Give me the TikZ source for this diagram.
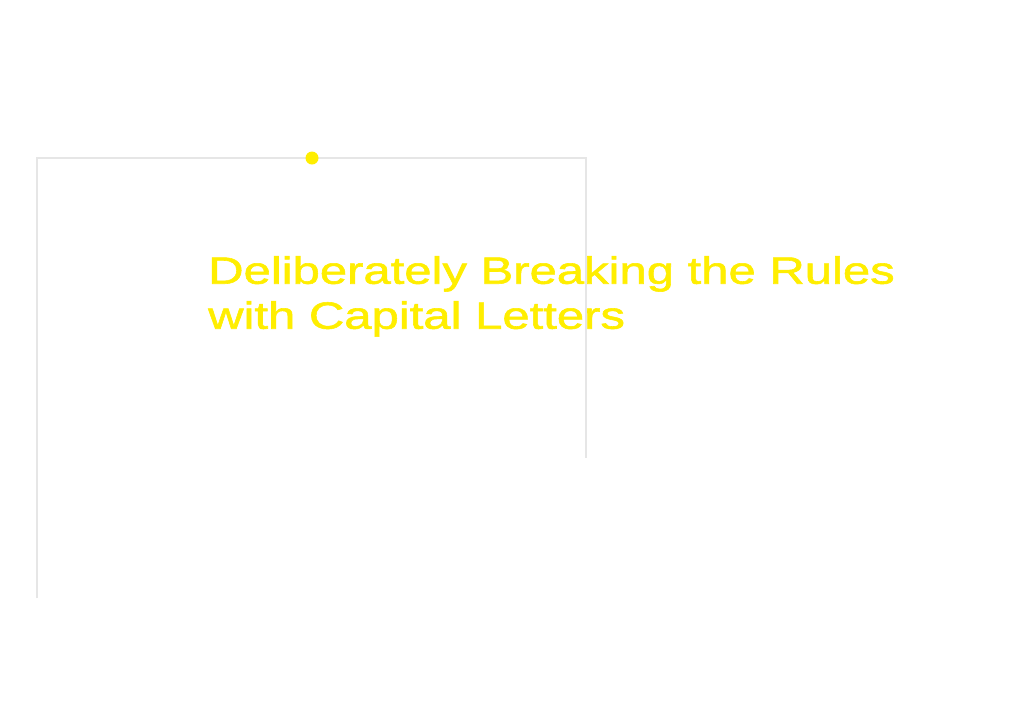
\documentclass[tikz,border=0pt]{standalone}
\usepackage{fontspec}
\setmainfont[FakeStretch=1.29,FakeBold=1.5]{Liberation Sans}
\definecolor{titleyellow}{HTML}{FFEE00}
\definecolor{framegray}{HTML}{E6E6E6}
\begin{document}
\begin{tikzpicture}[x=1pt,y=-1pt]
        % page area (1024 x 724)
        \useasboundingbox[fill=white] (0,0) rectangle (1024,724);

        % open frame, light gray
        \coordinate (fbl) at (37,598);
        \coordinate (ftl) at (37,158);
        \coordinate (ftr) at (586,158);
        \coordinate (fbr) at (586,458);
        \draw[framegray,line width=1.5pt] (fbl) -- (ftl) -- (ftr) -- (fbr);

        % yellow dot on the top edge
        \fill[titleyellow] (312,158) circle (6.5) coordinate (dot);

        % title
        \node[titleyellow,anchor=north west,inner sep=0pt,align=left,
              font=\fontsize{38}{45}\selectfont] (title) at (208,256)
              {Deliberately Breaking the Rules\\with Capital Letters};
\end{tikzpicture}
\end{document}
